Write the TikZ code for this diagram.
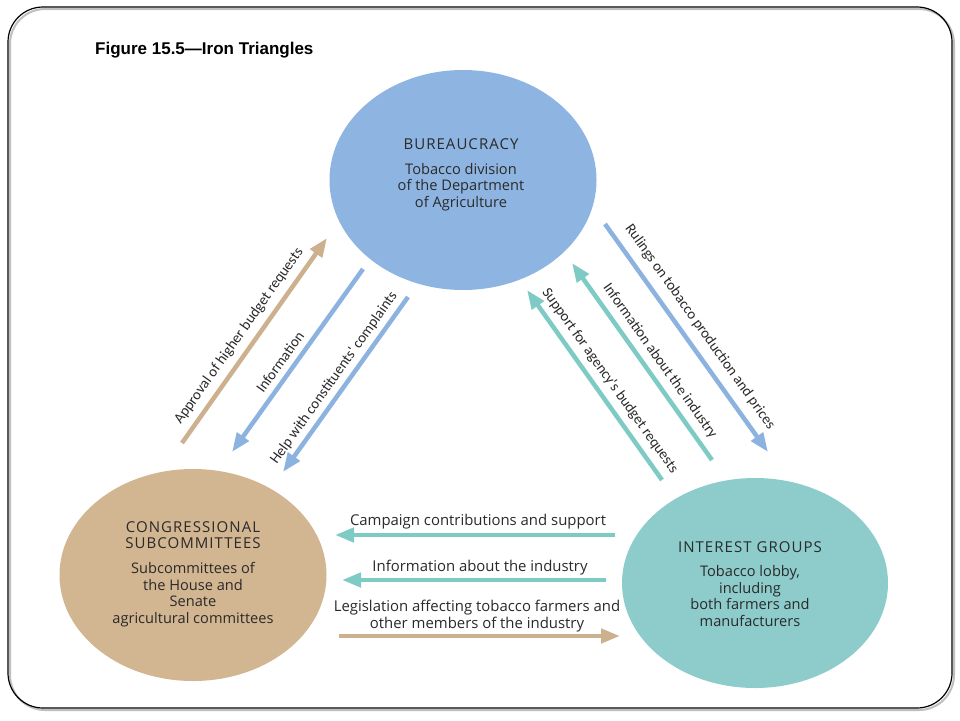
\documentclass[tikz,border=0pt]{standalone}
\usepackage{fontspec}
\setmainfont{Open Sans}
\newfontfamily\labelfont{Carlito}
\newfontfamily\titlefont{Liberation Sans}
\newfontfamily\headfont[LetterSpace=7]{Open Sans}
\usetikzlibrary{shapes.geometric,arrows.meta}
\definecolor{bureauC}{HTML}{8EB5E1}
\definecolor{congC}{HTML}{D2B591}
\definecolor{interC}{HTML}{8DCCCB}
\definecolor{arrBlue}{HTML}{8CB3E0}
\definecolor{arrTeal}{HTML}{7ECAC5}
\definecolor{arrTan}{HTML}{CDB18E}
\definecolor{txt}{HTML}{2A2A2A}
\tikzset{
  blob/.style={ellipse, draw=none, inner sep=0pt},
  flow/.style={line width=4.5pt, -{Triangle[length=19pt,width=14pt]}},
  slant/.style={font=\labelfont\fontsize{14.8}{17}\selectfont, text=txt, inner sep=0pt},
  flat/.style={font=\fontsize{14.9}{16.8}\selectfont, text=txt, inner sep=0pt, align=center},
  blobtext/.style={font=\fontsize{14.6}{16.5}\selectfont, text=txt, inner sep=0pt, align=center},
}
\newcommand\headtxt[1]{{\headfont\fontsize{15}{15}\selectfont #1}}
\begin{document}
\begin{tikzpicture}[x=1pt,y=-1pt]
\useasboundingbox (0,0) rectangle (960,720);
\fill[white] (0,0) rectangle (960,720);
% frame with shadow
\draw[line width=2pt, black!25, rounded corners=35pt] (10,9) rectangle (954,710);
\draw[line width=1.2pt, black, rounded corners=35pt] (8,7) rectangle (952,708);

\node[anchor=west, font=\titlefont\bfseries\fontsize{17}{19}\selectfont, inner sep=0pt] (title) at (95,50) {Figure 15.5—Iron Triangles};

% circles
\node[blob, fill=bureauC, minimum width=267pt, minimum height=220pt] (bur) at (463,180) {};
\node[blob, fill=congC, minimum width=267pt, minimum height=212pt] (cong) at (193,575) {};
\node[blob, fill=interC, minimum width=266pt, minimum height=210pt] (inter) at (755,583) {};

\node[blobtext] (burT) at (461,175) {\headtxt{BUREAUCRACY}\\[8pt]Tobacco division\\of the Department\\of Agriculture};
\node[blobtext] (congT) at (193,574) {\headtxt{CONGRESSIONAL}\\[-0.5pt]\headtxt{SUBCOMMITTEES}\\[9pt]Subcommittees of\\the House and\\Senate\\agricultural committees};
\node[blobtext] (interT) at (750,584) {\headtxt{INTEREST GROUPS}\\[8pt]Tobacco lobby,\\including\\both farmers and\\manufacturers};

% arrow end points
\coordinate (aT) at (182,443); \coordinate (aH) at (327,238);
\coordinate (iT) at (363,269); \coordinate (iH) at (232,452);
\coordinate (hT) at (408,297); \coordinate (hH) at (283,472);
\coordinate (rT) at (605,224); \coordinate (rH) at (768,452);
\coordinate (nT) at (712,460); \coordinate (nH) at (572,263);
\coordinate (sT) at (662,480); \coordinate (sH) at (527,290);
\coordinate (cT) at (615,535); \coordinate (cH) at (335,535);
\coordinate (bT) at (606,580); \coordinate (bH) at (342,580);
\coordinate (lT) at (339,636); \coordinate (lH) at (620,636);

\draw[flow, arrTan] (aT) -- (aH);
\draw[flow, arrBlue] (iT) -- (iH);
\draw[flow, arrBlue] (hT) -- (hH);
\draw[flow, arrBlue] (rT) -- (rH);
\draw[flow, arrTeal] (nT) -- (nH);
\draw[flow, arrTeal] (sT) -- (sH);
\draw[flow, arrTeal] (cT) -- (cH);
\draw[flow, arrTeal] (bT) -- (bH);
\draw[flow, arrTan] (lT) -- (lH);

% labels
\node[slant, rotate=54.7] (aL) at (239,336) {Approval of higher budget requests};
\node[slant, rotate=54.5] (iL) at (280,362) {Information};
\node[slant, rotate=54.5] (hL) at (334,378) {Help with constituents' complaints};
\node[slant, rotate=-54.5] (rL) at (700,327) {Rulings on tobacco production and prices};
\node[slant, rotate=-54.5] (nL) at (660,361) {Information about the industry};
\node[slant, rotate=-54.5] (sL) at (610,381) {Support for agency's budget requests};

\node[flat] (cL) at (478,522) {Campaign contributions and support};
\node[flat] (bL) at (480,568) {Information about the industry};
\node[flat] (lL) at (477,616) {Legislation affecting tobacco farmers and\\other members of the industry};
\end{tikzpicture}
\end{document}
